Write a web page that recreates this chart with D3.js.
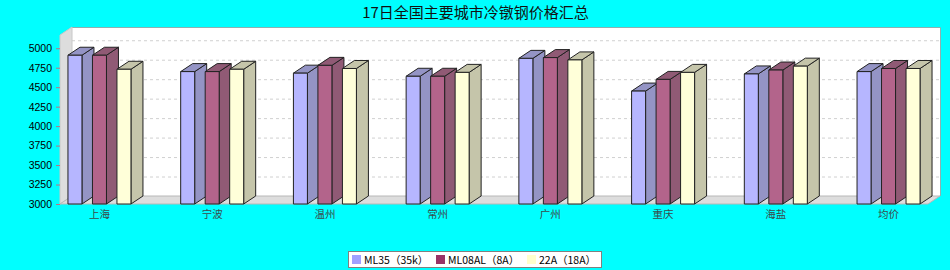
<!DOCTYPE html>
<html>
<head>
<meta charset="utf-8">
<script src="https://cdn.jsdelivr.net/npm/d3@7"></script>
<style>
  body { margin: 0; background: #00ffff; }
  svg { display: block; }
</style>
</head>
<body>
<svg></svg>
<script>
const width = 950;
const height = 270;

// данные
const categories = ["上海", "宁波", "温州", "常州", "广州", "重庆", "海盐", "均价"];
const seriesNames = ["ML35（35k）", "ML08AL（8A）", "22A（18A）"];
const ml35 = [4910, 4700, 4680, 4640, 4870, 4450, 4670, 4700];
const ml08al = [4910, 4700, 4780, 4640, 4880, 4600, 4720, 4740];
const a22 = [4730, 4730, 4740, 4690, 4850, 4690, 4770, 4740];
const yTicks = [3000, 3250, 3500, 3750, 4000, 4250, 4500, 4750, 5000];

const series = [ml35, ml08al, a22];
// цвета: лицевая грань и боковая/верхняя грань
const frontColors = ["#b6b6ff", "#b3648b", "#ffffd9"];
const sideColors = ["#9494c5", "#905a75", "#c5c5aa"];
const legendColors = ["#a0a0ff", "#993366", "#ffffcc"];

// 3D смещение
const dx = 12;
const dy = 8;
const plotLeft = 60, plotRight = 928, plotBottom = 204, plotTop = 35;

let svg = d3.select("svg")
    .attr("width", width)
    .attr("height", height);

svg.append("rect")
    .attr("width", width)
    .attr("height", height)
    .attr("fill", "#00ffff");

// заголовок
svg.append("text")
    .attr("x", 475.5)
    .attr("y", 18)
    .attr("text-anchor", "middle")
    .style("font-family", "'Noto Sans CJK SC', sans-serif")
    .style("font-size", "15px")
    .attr("fill", "#111")
    .text("17日全国主要城市冷镦钢价格汇总");

let scaleY = d3.scaleLinear()
    .domain([3000, 5170])
    .range([plotBottom, plotTop]);

let scaleX = d3.scalePoint()
    .domain(categories)
    .range([plotLeft, plotRight])
    .padding(0.35);

// задняя стенка
svg.append("rect")
    .attr("x", plotLeft + dx)
    .attr("y", plotTop - dy)
    .attr("width", plotRight - plotLeft)
    .attr("height", plotBottom - plotTop)
    .attr("fill", "#ffffff");

// сетка на задней стенке
svg.append("g")
    .selectAll("line")
    .data(yTicks.slice(1))
    .enter()
    .append("line")
    .attr("x1", plotLeft + dx)
    .attr("x2", plotRight + dx)
    .attr("y1", d => scaleY(d) - dy + 0.5)
    .attr("y2", d => scaleY(d) - dy + 0.5)
    .attr("stroke", "#d0d0d0")
    .attr("stroke-dasharray", "3,3");

// рамка задней стенки (верх и право)
svg.append("path")
    .attr("d", `M${plotLeft + dx},${plotTop - dy + 0.5}H${plotRight + dx + 0.5}V${plotBottom - dy}`)
    .attr("fill", "none")
    .attr("stroke", "#8fb0b0");

// левая стенка
svg.append("path")
    .attr("d", `M${plotLeft},${plotBottom}L${plotLeft},${plotTop}L${plotLeft + dx},${plotTop - dy}L${plotLeft + dx},${plotBottom - dy}Z`)
    .attr("fill", "#dddddd")
    .attr("stroke", "#c8c8c8");

// пол
svg.append("path")
    .attr("d", `M${plotLeft},${plotBottom}L${plotLeft + dx},${plotBottom - dy}L${plotRight + dx},${plotBottom - dy}L${plotRight},${plotBottom}Z`)
    .attr("fill", "#dddddd")
    .attr("stroke", "#b8b8b8");

// ось Y
let axisY = d3.axisLeft(scaleY)
    .tickValues(yTicks)
    .tickFormat(d3.format("d"))
    .tickSize(4)
    .tickSizeOuter(0)
    .tickPadding(4);
let gY = svg.append("g")
    .attr("transform", `translate(${plotLeft}, 0)`)
    .call(axisY);
gY.select(".domain").remove();
gY.selectAll(".tick line").attr("stroke", "#c07080");
gY.selectAll(".tick text")
    .attr("fill", "#000")
    .style("font-family", "'Liberation Sans', Arial, sans-serif")
    .style("font-size", "10.5px");

// столбцы
const barW = 14;
const barStep = 24.5;
let bars = svg.append("g");
categories.forEach((cat, ci) => {
    series.forEach((vals, si) => {
        let x0 = scaleX(cat) - barW / 2 + (si - 1) * barStep;
        let x1 = x0 + barW;
        let yTop = scaleY(vals[ci]);
        let g = bars.append("g")
            .attr("stroke", "#222")
            .attr("stroke-width", 1)
            .attr("stroke-linejoin", "round");
        // боковая грань
        g.append("path")
            .attr("d", `M${x1},${plotBottom}L${x1 + dx},${plotBottom - dy}L${x1 + dx},${yTop - dy}L${x1},${yTop}Z`)
            .attr("fill", sideColors[si]);
        // верхняя грань
        g.append("path")
            .attr("d", `M${x0},${yTop}L${x0 + dx},${yTop - dy}L${x1 + dx},${yTop - dy}L${x1},${yTop}Z`)
            .attr("fill", sideColors[si]);
        // лицевая грань
        g.append("rect")
            .attr("x", x0)
            .attr("y", yTop)
            .attr("width", barW)
            .attr("height", plotBottom - yTop)
            .attr("fill", frontColors[si]);
    });
});

// подписи категорий
svg.append("g")
    .selectAll("text")
    .data(categories)
    .enter()
    .append("text")
    .attr("x", d => scaleX(d))
    .attr("y", 218)
    .attr("text-anchor", "middle")
    .style("font-family", "'Noto Sans CJK SC', sans-serif")
    .style("font-size", "10.5px")
    .attr("fill", "#3a4a4a")
    .text(d => d);

// легенда
let legend = svg.append("g");
legend.append("rect")
    .attr("x", 348.5)
    .attr("y", 251.5)
    .attr("width", 253)
    .attr("height", 16)
    .attr("fill", "#ffffff")
    .attr("stroke", "#808080");
const legendX = [352, 436, 527];
seriesNames.forEach((name, i) => {
    legend.append("rect")
        .attr("x", legendX[i])
        .attr("y", 255)
        .attr("width", 9)
        .attr("height", 9)
        .attr("fill", legendColors[i]);
    legend.append("text")
        .attr("x", legendX[i] + 12)
        .attr("y", 263.5)
        .style("font-family", "'Noto Sans CJK SC', sans-serif")
        .style("font-size", "10.5px")
        .attr("fill", "#000")
        .text(name);
});
</script>
</body>
</html>
